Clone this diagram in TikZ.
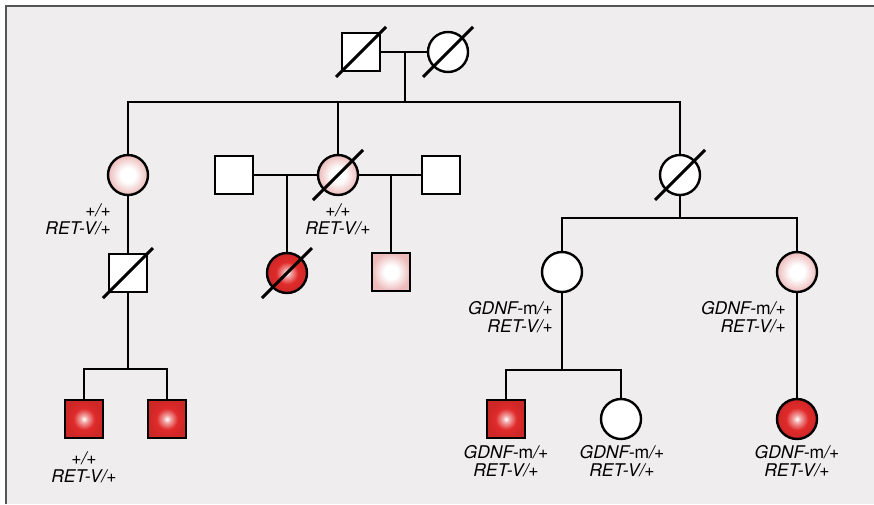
\documentclass[tikz,border=0pt]{standalone}
\usepackage{fontspec}
\setmainfont{TeX Gyre Heros}
\usetikzlibrary{calc}
\definecolor{bgc}{HTML}{EFEDED}
\definecolor{framec}{HTML}{555555}
\definecolor{pinkedge}{HTML}{EDBABA}
\definecolor{myred}{HTML}{E02A2A}
\pgfdeclareradialshading{pinkball}{\pgfpoint{0bp}{0bp}}{color(0bp)=(white); color(9bp)=(white); color(25bp)=(pinkedge); color(50bp)=(pinkedge)}
\pgfdeclareradialshading{redball}{\pgfpoint{0bp}{0bp}}{color(0bp)=(white); color(5bp)=(myred!45); color(14bp)=(myred); color(25bp)=(myred!92!black); color(50bp)=(myred!92!black)}
\tikzset{
  sym/.style={draw=black, line width=2.4pt, inner sep=0pt, outer sep=0pt},
  male/.style={sym, rectangle, minimum size=38pt},
  female/.style={sym, circle, minimum size=40pt},
  plain/.style={fill=white},
  carrier/.style={shade, shading=pinkball},
  affected/.style={shade, shading=redball},
  conn/.style={draw=black, line width=2.8pt},
  slashln/.style={draw=black, line width=2.9pt},
  geno/.style={font=\fontsize{17.5}{18}\selectfont\itshape, inner sep=0pt},
}
\newcommand{\deceased}[1]{\draw[slashln] ([shift={(-25,25)}]#1.center) -- ([shift={(25,-25)}]#1.center);}
\begin{document}
\begin{tikzpicture}[x=1pt,y=-1pt]
\useasboundingbox (0,0) rectangle (874,504);
\fill[white] (0,0) rectangle (874,504);
\fill[bgc] (6,6) rectangle (874,504);
\draw[framec, line width=2pt] (6,504) -- (6,6) -- (874,6);

% generation I
\node[male, plain] (gf) at (361,52) {};
\node[female, plain] (gm) at (448,52) {};
\draw[conn] (gf.east) -- (gm.west);
\coordinate (m1) at (405,52);
\coordinate (s1) at (405,102);
\draw[conn] (m1) -- (s1);

% generation II
\node[female, carrier] (c1) at (128,175) {};
\node[female, carrier] (c2) at (338,175) {};
\node[female, plain] (c3) at (680,175) {};
\draw[conn] (c1.north) |- (s1) -| (c3.north);
\draw[conn] (c2.north) -- (c2.north |- s1);

\node[male, plain] (h1) at (234,175) {};
\node[male, plain] (h2) at (441,175) {};
\draw[conn] (h1.east) -- (c2.west);
\draw[conn] (c2.east) -- (h2.west);

% left branch
\node[male, plain] (h0) at (128,273) {};
\draw[conn] (c1.south) -- (h0.north);
\coordinate (s2) at (128,369);
\node[male, affected] (g1) at (84,419) {};
\node[male, affected] (g2) at (167,419) {};
\draw[conn] (h0.south) -- (s2);
\draw[conn] (g1.north) |- (s2) -| (g2.north);

% middle branch
\node[female, affected] (d1) at (287,273) {};
\node[male, carrier] (d2) at (391,272) {};
\draw[conn] (d1.north) -- (d1.north |- h1.east);
\draw[conn] (d2.north) -- (d2.north |- h2.west);

% right branch
\coordinate (s3) at (680,218);
\node[female, plain] (e1) at (562,272) {};
\node[female, carrier] (e2) at (797,272) {};
\draw[conn] (c3.south) -- (s3);
\draw[conn] (e1.north) |- (s3) -| (e2.north);
\coordinate (s4) at (562,370);
\node[male, affected] (f1) at (506,419) {};
\node[female, plain] (f2) at (621,419) {};
\node[female, affected] (f3) at (797,419) {};
\draw[conn] (e1.south) -- (s4);
\draw[conn] (f1.north) |- (s4) -| (f2.north);
\draw[conn] (e2.south) -- (f3.north);

% deceased slashes
\deceased{gf}
\deceased{gm}
\deceased{c2}
\deceased{c3}
\deceased{h0}
\deceased{d1}

% genotypes
\node[geno, align=right, anchor=east] (l1) at (111,219) {+/+\\RET-V/+};
\node[geno, align=center] (l2) at (338,219) {+/+\\RET-V/+};
\node[geno, align=center] (l3) at (84,467) {+/+\\RET-V/+};
\node[geno, align=right, anchor=east] (l4) at (553,317) {GDNF-\textup{m}/+\\RET-V/+};
\node[geno, align=right, anchor=east] (l5) at (786,317) {GDNF-\textup{m}/+\\RET-V/+};
\node[geno, align=center] (l6) at (506,461) {GDNF-\textup{m}/+\\RET-V/+};
\node[geno, align=center] (l7) at (622,461) {GDNF-\textup{m}/+\\RET-V/+};
\node[geno, align=center] (l8) at (797,461) {GDNF-\textup{m}/+\\RET-V/+};
\end{tikzpicture}
\end{document}
